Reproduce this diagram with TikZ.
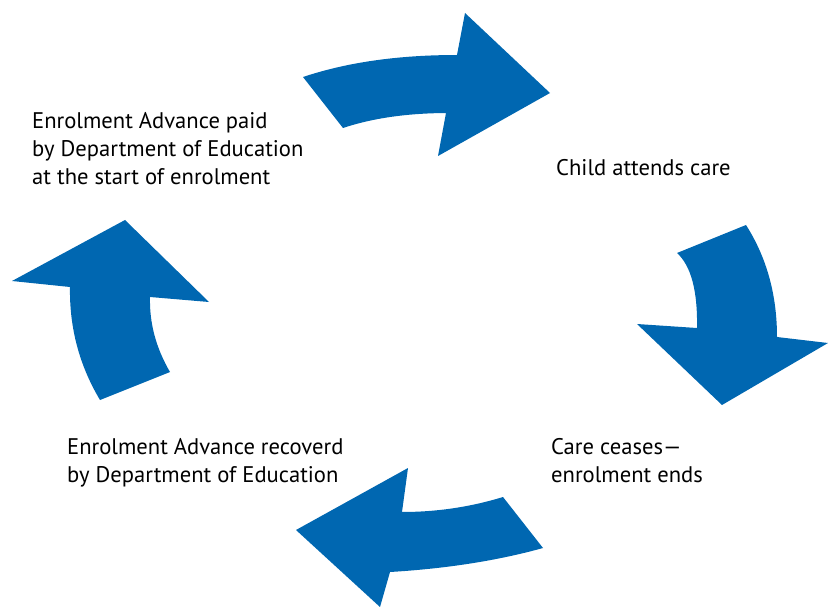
\documentclass[tikz,border=0pt]{standalone}
\usepackage{fontspec}
\setmainfont{PT Sans}
\definecolor{cycleblue}{RGB}{0,103,177}
\begin{document}
\begin{tikzpicture}[x=1pt,y=-1pt,
  bigarrow/.style={fill=cycleblue,draw=none},
  lbl/.style={anchor=base west,inner sep=0pt,align=left,text=black,
    font=\fontsize{22.6}{28}\selectfont}]
\useasboundingbox (0,0) rectangle (828,607);
% curved arrow, top: towards the right
\path[bigarrow] (303,77) .. controls (347,62.3) and (398,55) .. (457,55)
  -- (465,13) -- (550,93) -- (438,156) -- (446,113)
  .. controls (406,113.3) and (372,118.3) .. (343,128) -- cycle;
% curved arrow, right: downwards
\path[bigarrow] (677,253) .. controls (691,265.7) and (697.7,290.7) .. (697,328)
  -- (637,324) -- (722,405) -- (828,343) -- (777,337)
  .. controls (777,294.8) and (766.7,257.5) .. (746,225) -- cycle;
% curved arrow, bottom: towards the left
\path[bigarrow] (503,497) .. controls (470.5,507) and (436.7,512) .. (402,512)
  -- (408,468) -- (296,530) -- (380,607) -- (390,572)
  .. controls (446.7,568.6) and (497.7,560.6) .. (543,548) -- cycle;
% curved arrow, left: upwards
\path[bigarrow] (170,372) .. controls (156,348) and (149.3,323) .. (150,297)
  -- (209,302) -- (125,220) -- (12,281) -- (70,287)
  .. controls (69.3,327.7) and (79.3,365.3) .. (100,400) -- cycle;
% stage labels (base anchor sits on the last line)
\node[lbl] (paid) at (32,185) {Enrolment Advance paid\\by Department of Education\\at the start of enrolment};
\node[lbl] (attends) at (556,176) {Child attends care};
\node[lbl] (ceases) at (551,482) {Care ceases—\\enrolment ends};
\node[lbl] (recovered) at (67,482) {Enrolment Advance recoverd\\by Department of Education};
\end{tikzpicture}
\end{document}
